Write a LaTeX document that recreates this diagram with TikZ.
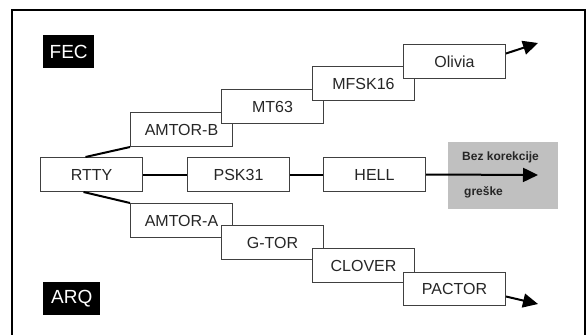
\documentclass[tikz,border=0pt]{standalone}
\usepackage{fontspec}
\setmainfont{Liberation Sans}
\usetikzlibrary{arrows.meta,calc}
\definecolor{boxedge}{HTML}{404040}
\definecolor{graybox}{HTML}{C0C0C0}
\tikzset{
  mode/.style={draw=boxedge, line width=1pt, fill=white, minimum width=102pt, minimum height=34pt, inner sep=0pt, anchor=north west, font=\fontsize{16}{19}\selectfont, text=black!85},
  tag/.style={fill=black, text=white, inner sep=0pt, anchor=north west, font=\fontsize{19}{22}\selectfont},
  link/.style={line width=2pt, black},
  flow/.style={line width=2pt, black, -{Triangle[length=15pt,width=14pt]}},
  note/.style={anchor=base west, inner sep=0pt, font=\fontsize{12}{14}\selectfont\bfseries, text=black!85}
}
\begin{document}
\begin{tikzpicture}[x=1pt,y=-1pt]
\useasboundingbox (0,0) rectangle (587,335);
\begin{scope}
\clip (0,0) rectangle (587,335);
\draw[line width=2pt] (12,345) -- (12,10) -- (585,10) -- (585,345);
\end{scope}
% labels
\node[tag, minimum width=51pt, minimum height=33pt] (fec) at (43,35) {FEC};
\node[tag, minimum width=57pt, minimum height=33pt] (arq) at (43,282) {ARQ};
% gray area
\node[fill=graybox, inner sep=0pt, minimum width=110pt, minimum height=67pt, anchor=north west] (nocorr) at (448,142) {};
\node[note] (bez) at (462,160) {Bez korekcije};
\node[note] (gre) at (464,195) {greške};
% main row
\node[mode] (rtty) at (40,157) {RTTY};
\node[mode] (psk) at (187,157) {PSK31};
\node[mode] (hell) at (323,157) {HELL};
% FEC branch
\node[mode] (amb) at (130,112) {AMTOR-B};
\node[mode] (mt) at (221,89) {MT63};
\node[mode] (mfsk) at (312,66) {MFSK16};
\node[mode] (oli) at (403,44) {Olivia};
% ARQ branch
\node[mode] (ama) at (130,203) {AMTOR-A};
\node[mode] (gtor) at (221,225) {G-TOR};
\node[mode] (clover) at (312,248) {CLOVER};
\node[mode, minimum height=33pt] (pactor) at (403,272) {PACTOR};
% end points
\coordinate (endtop) at (538,43);
\coordinate (endmid) at (538,175);
\coordinate (endbot) at (538,304);
% connectors
\draw[link] (rtty) -- (psk);
\draw[link] (psk) -- (hell);
\draw[link] ([xshift=-6pt]rtty.north) -- (amb.south west);
\draw[link] ([xshift=-8pt]rtty.south) -- (ama.north west);
\draw[flow] (hell.east) -- (endmid);
\draw[flow] ([yshift=8pt]oli.east) -- (endtop);
\draw[flow] ([yshift=-7.5pt]pactor.east) -- (endbot);
\end{tikzpicture}
\end{document}
